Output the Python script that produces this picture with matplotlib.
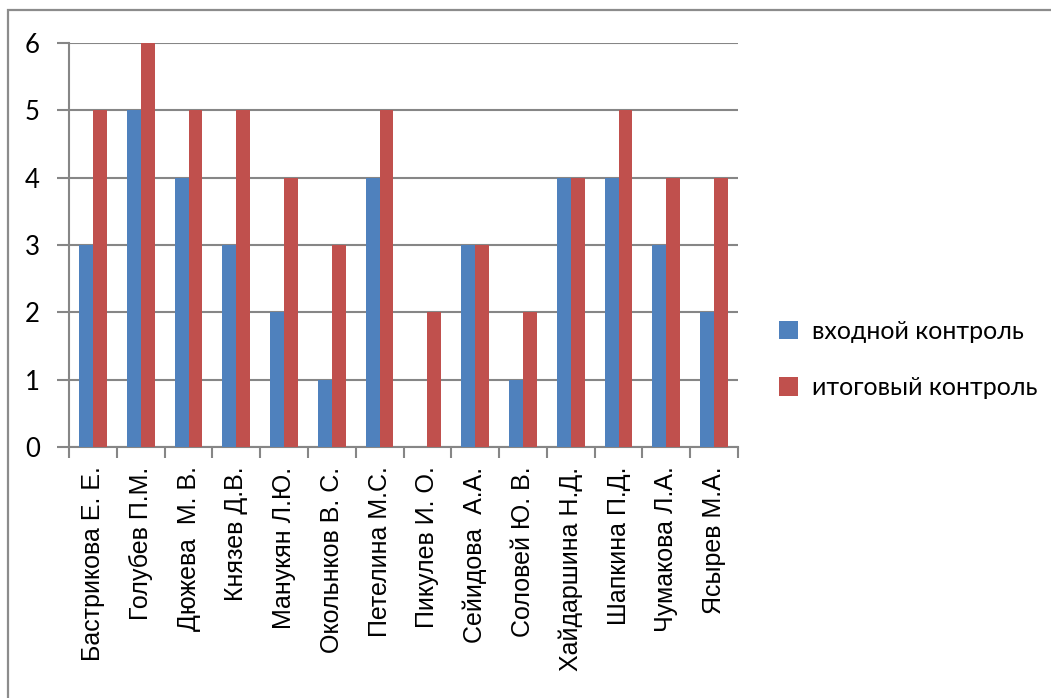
import matplotlib
matplotlib.use("Agg")
import matplotlib.pyplot as plt
from matplotlib.patches import Rectangle

students = ["Бастрикова Е. Е.", "Голубев П.М.", "Дюжева  М. В.", "Князев Д.В.",
            "Манукян Л.Ю.", "Окольнков В. С.", "Петелина М.С.", "Пикулев И. О.",
            "Сейидова  А.А.", "Соловей Ю. В.", "Хайдаршина Н.Д.", "Шапкина П.Д.",
            "Чумакова Л.А.", "Ясырев М.А."]
entry_scores = [3, 5, 4, 3, 2, 1, 4, 0, 3, 1, 4, 4, 3, 2]
final_scores = [5, 6, 5, 5, 4, 3, 5, 2, 3, 2, 4, 5, 4, 4]
series_names = ["входной контроль", "итоговый контроль"]

blue = "#4F81BD"
red = "#C0504D"
gray = "#868686"

fig = plt.figure(figsize=(10.51, 6.98), dpi=100)
ax = fig.add_axes([0.0657, 0.3596, 0.6365, 0.5788])

# outer chart frame, open at the right and bottom edges
fig.patches.append(Rectangle((8 / 1051, -0.1), 1.2, 1 - 10 / 698 + 0.1,
                             transform=fig.transFigure, fill=False,
                             edgecolor="#8c8c8c", linewidth=1.6))

x = list(range(len(students)))
w = 0.29
ax.bar([i - w for i in x], entry_scores, width=w, align="edge", color=blue,
       label=series_names[0], zorder=3)
ax.bar(x, final_scores, width=w, align="edge", color=red,
       label=series_names[1], zorder=3)

ax.set_xlim(-0.5, len(students) - 0.5)
ax.set_ylim(0, 6)
ax.set_yticks(range(7))
ax.yaxis.grid(True, color=gray, linewidth=1.5, zorder=0)
ax.set_axisbelow(True)

for side in ("top", "right"):
    ax.spines[side].set_visible(False)
for side in ("left", "bottom"):
    ax.spines[side].set_color(gray)
    ax.spines[side].set_linewidth(1.5)

ax.tick_params(axis="y", length=9, width=1.5, color=gray, pad=12,
               labelsize=18.5, labelfontfamily=["Lato", "DejaVu Sans"])
ax.set_xticks(x)
ax.set_xticklabels(students, rotation=90, ha="center", va="top",
                   fontsize=18, family=["Liberation Sans", "DejaVu Sans"])
ax.tick_params(axis="x", which="major", length=0, pad=14)
ax.set_xticks([i - 0.5 for i in range(len(students) + 1)], minor=True)
ax.tick_params(axis="x", which="minor", length=8, width=1.5, color=gray)

leg = fig.legend(loc="center left", bbox_to_anchor=(0.72, 0.485),
                 frameon=False, handlelength=0.75, handleheight=0.75,
                 handletextpad=0.55, labelspacing=1.35,
                 prop={"family": ["Lato", "DejaVu Sans"], "size": 18})

fig.savefig("out.png", dpi=100, facecolor="white")
